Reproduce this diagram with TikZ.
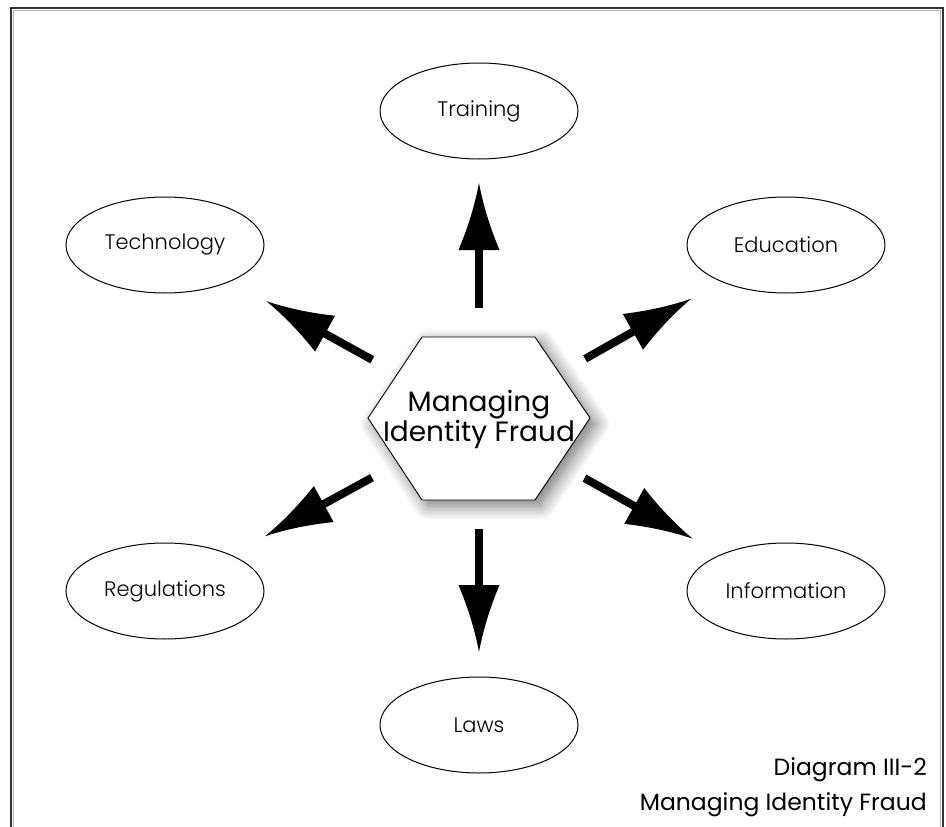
\documentclass[tikz,border=0pt]{standalone}
\usepackage{fontspec}
\setmainfont{Poppins}
\newfontfamily\lightfont{Poppins Light}
\usetikzlibrary{arrows.meta,shapes.geometric,shadows.blur}
\pgfdeclarearrow{
  name=ConcaveHead,
  parameters={\the\pgfarrowlength,\the\pgfarrowwidth},
  setup code={
    \pgfarrowssettipend{0pt}
    \pgfarrowssetlineend{-.9\pgfarrowlength}
    \pgfarrowssetbackend{-\pgfarrowlength}
    \pgfarrowssavethe\pgfarrowlength
    \pgfarrowssavethe\pgfarrowwidth
    \pgfarrowsupperhullpoint{-\pgfarrowlength}{.5\pgfarrowwidth}
    \pgfarrowshullpoint{0pt}{0pt}
  },
  drawing code={
    \pgfsetfillcolor{black}
    \pgfpathmoveto{\pgfpointorigin}
    \pgfpathcurveto{\pgfpoint{-.4\pgfarrowlength}{.12\pgfarrowwidth}}{\pgfpoint{-.75\pgfarrowlength}{.33\pgfarrowwidth}}{\pgfpoint{-\pgfarrowlength}{.5\pgfarrowwidth}}
    \pgfpathlineto{\pgfpoint{-\pgfarrowlength}{-.5\pgfarrowwidth}}
    \pgfpathcurveto{\pgfpoint{-.75\pgfarrowlength}{-.33\pgfarrowwidth}}{\pgfpoint{-.4\pgfarrowlength}{-.12\pgfarrowwidth}}{\pgfpointorigin}
    \pgfpathclose
    \pgfusepathqfill
  },
  defaults={length=67pt,width=41pt}
}
\begin{document}
\begin{tikzpicture}[x=1pt,y=-1pt,
  leaf/.style={ellipse, draw, line width=1pt, minimum width=198pt, minimum height=96pt, inner sep=0pt, font=\lightfont\fontsize{21}{25}\selectfont},
  bigarrow/.style={line width=8pt, draw=black, -{ConcaveHead[length=67pt,width=41pt]}},
  captext/.style={anchor=base east, inner sep=0pt, font=\fontsize{23.5}{28}\selectfont},
]
\useasboundingbox (0,0) rectangle (946,827);
\draw[black!80, line width=2pt] (11,827) -- (11,8) -- (943,8) -- (943,827);
\draw[black!30, line width=0.8pt] (13.5,827) -- (13.5,10.5) -- (940.5,10.5) -- (940.5,827);
% hexagon
\draw[shift={(479,418)}, fill=white, line width=0.9pt,
  blur shadow={shadow xshift=6pt, shadow yshift=-6pt, shadow blur radius=14pt, shadow blur steps=12, shadow opacity=55}]
  (-111,0) -- (-57,-81) -- (56,-81) -- (111,0) -- (56,82) -- (-57,82) -- cycle;
\node[align=center, inner sep=0pt, font=\fontsize{28}{30}\selectfont] (hex) at (479,419) {Managing\\Identity Fraud};
% leaves
\node[leaf] (train) at (479,111) {Training};
\node[leaf] (tech) at (165,245) {Technology};
\node[leaf] (edu) at (786,245) {Education};
\node[leaf] (reg) at (165,591) {Regulations};
\node[leaf] (info) at (786,591) {Information};
\node[leaf] (laws) at (479,725) {Laws};
% arrows
\draw[bigarrow, shorten <=111pt, shorten >=72pt] (hex.center) -- (train.center);
\draw[bigarrow, shorten <=110pt, shorten >=73pt] (hex.center) -- (laws.center);
\draw[bigarrow, shorten <=122pt, shorten >=116pt] (hex.center) -- (tech.center);
\draw[bigarrow, shorten <=122pt, shorten >=109pt] (hex.center) -- (edu.center);
\draw[bigarrow, shorten <=122pt, shorten >=114pt] (hex.center) -- (reg.center);
\draw[bigarrow, shorten <=121pt, shorten >=107pt] (hex.center) -- (info.center);
% caption
\node[captext] (cap1) at (927,775) {Diagram III-2};
\node[captext] (cap2) at (927,810) {Managing Identity Fraud};
\end{tikzpicture}
\end{document}
